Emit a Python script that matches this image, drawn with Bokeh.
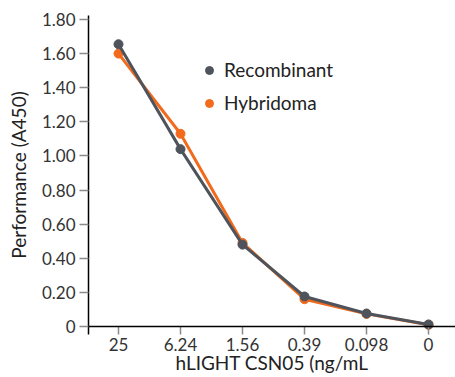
from bokeh.plotting import figure
from bokeh.models import Span, Legend, LegendItem, Range1d, FixedTicker
from bokeh.embed import file_html
from bokeh.resources import INLINE

concentrations = ["25", "6.24", "1.56", "0.39", "0.098", "0"]
recombinant = [1.655, 1.04, 0.48, 0.176, 0.076, 0.012]
hybridoma = [1.60, 1.13, 0.49, 0.16, 0.074, 0.010]
y_ticks = [0, 0.2, 0.4, 0.6, 0.8, 1.0, 1.2, 1.4, 1.6, 1.8]
y_tick_labels = ["0", "0.20", "0.40", "0.60", "0.80", "1.00", "1.20", "1.40", "1.60", "1.80"]
x_title = "hLIGHT CSN05 (ng/mL"
y_title = "Performance (A450)"

GRAY = "#4f545c"
ORANGE = "#f26b1d"
FONT = "Lato"

xs = list(range(len(concentrations)))

p = figure(width=455, height=377, output_backend="svg", toolbar_location=None,
           x_range=Range1d(-0.484, 5.435), y_range=Range1d(-0.0469, 1.8235),
           min_border_left=88, min_border_right=0, min_border_top=15, min_border_bottom=43)
p.outline_line_color = None
p.xgrid.grid_line_color = None
p.ygrid.grid_line_color = None

# y axis
p.yaxis.ticker = FixedTicker(ticks=y_ticks)
p.yaxis.major_label_overrides = {t: l for t, l in zip(y_ticks, y_tick_labels)}
p.yaxis.minor_tick_line_color = None
p.yaxis.major_tick_out = 9
p.yaxis.major_tick_in = 0
p.yaxis.major_tick_line_color = "#8a8a8a"
p.yaxis.major_tick_line_width = 1.5
p.yaxis.axis_line_color = "black"
p.yaxis.axis_line_width = 1.5
p.yaxis.major_label_standoff = 4
p.yaxis.major_label_text_font = FONT
p.yaxis.major_label_text_font_size = "17px"
p.yaxis.major_label_text_color = "#333333"
p.yaxis.axis_label = y_title
p.yaxis.axis_label_text_font = FONT
p.yaxis.axis_label_text_font_style = "normal"
p.yaxis.axis_label_text_font_size = "19px"
p.yaxis.axis_label_text_color = "#222222"
p.yaxis.axis_label_standoff = 9

# x axis
p.xaxis.ticker = FixedTicker(ticks=xs)
p.xaxis.major_label_overrides = {i: c for i, c in zip(xs, concentrations)}
p.xaxis.minor_tick_line_color = None
p.xaxis.axis_line_color = None
p.xaxis.major_tick_in = 8
p.xaxis.major_tick_out = 0
p.xaxis.major_tick_line_color = "#8a8a8a"
p.xaxis.major_tick_line_width = 1.5
p.xaxis.major_label_standoff = 3
p.xaxis.major_label_text_font = FONT
p.xaxis.major_label_text_font_size = "17px"
p.xaxis.major_label_text_color = "#333333"
p.xaxis.axis_label = x_title
p.xaxis.axis_label_text_font = FONT
p.xaxis.axis_label_text_font_style = "normal"
p.xaxis.axis_label_text_font_size = "19px"
p.xaxis.axis_label_text_color = "#222222"
p.xaxis.axis_label_standoff = -3

p.add_layout(Span(location=0, dimension="width", line_color="black", line_width=1.5))

# series
p.line(xs, hybridoma, line_color=ORANGE, line_width=3)
ho = p.scatter(xs, hybridoma, size=9, color=ORANGE)
p.line(xs, recombinant, line_color=GRAY, line_width=3)
ro = p.scatter(xs, recombinant, size=9, color=GRAY)

legend = Legend(items=[LegendItem(label="Recombinant", renderers=[ro]),
                       LegendItem(label="Hybridoma", renderers=[ho])],
                location=(111, 220), padding=0, margin=0, spacing=10,
                glyph_width=20, glyph_height=22, label_height=22, label_standoff=5,
                label_text_font=FONT, label_text_font_size="19px",
                label_text_color="#222222", border_line_color=None,
                background_fill_alpha=0)
p.add_layout(legend, "center")

open("out.html", "w").write(file_html(p, INLINE))
